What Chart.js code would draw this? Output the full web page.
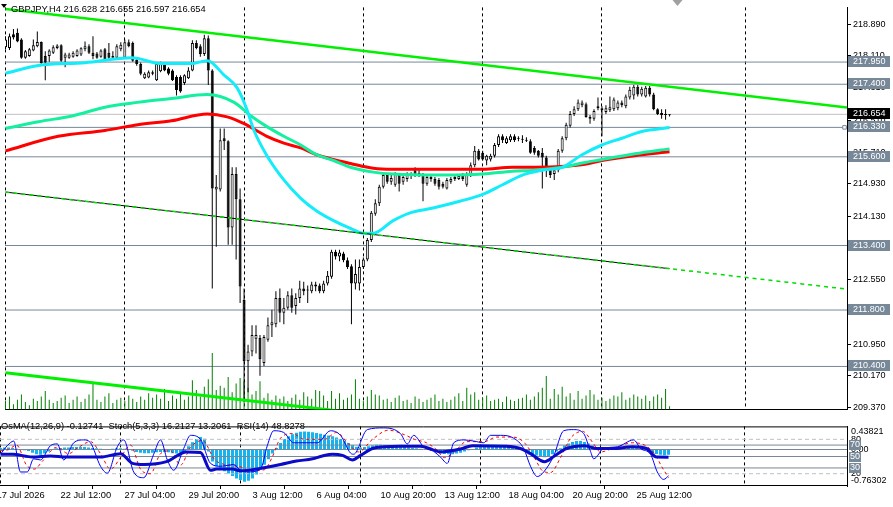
<!DOCTYPE html>
<html>
<head>
<meta charset="utf-8">
<script src="https://cdn.jsdelivr.net/npm/chart.js@4.4.0/dist/chart.umd.min.js"></script>
<style>
  html, body { margin: 0; padding: 0; background: #fff; }
  #wrap { position: relative; width: 893px; height: 507px; overflow: hidden; background: #fff; }
  canvas { position: absolute; left: 0; }
  #main { top: 0; }
  #ind { top: 417px; }
</style>
</head>
<body>
<div id="wrap">
  <canvas id="main" width="893" height="417"></canvas>
  <canvas id="ind" width="893" height="90"></canvas>
</div>
<script>
// GBPJPY H4, bar 0 = 17 Jul 2026 20:00
const symbol = 'GBPJPY,H4';
const timeLabels = ['17 Jul 2026', '22 Jul 12:00', '27 Jul 04:00', '29 Jul 20:00', '3 Aug 12:00', '6 Aug 04:00',
  '10 Aug 20:00', '13 Aug 12:00', '18 Aug 04:00', '20 Aug 20:00', '25 Aug 12:00'];
const timeLabelBars = [0, 16, 32, 48, 64, 80, 96, 112, 128, 144, 160];
const weekGridBars = [1, 31, 61, 91, 121, 151, 187];
const priceTicks = [218.890, 218.110, 217.310, 216.510, 215.710, 214.930, 214.130, 213.330, 212.550, 211.750, 210.950, 210.170, 209.370];
const levels = [217.950, 217.400, 216.330, 215.600, 213.400, 211.800, 210.400];
const lastPrice = 216.654;
const shiftBar = 170;

const opens = [218.34,218.32,218.30,218.64,218.68,218.51,218.06,218.10,218.24,218.34,
  218.45,218.10,218.10,218.18,218.30,218.37,218.06,218.06,218.08,218.10,
  218.14,218.27,218.34,218.18,218.16,218.08,218.27,218.18,218.06,218.06,
  218.27,218.06,218.44,218.42,218.00,217.90,217.55,217.57,217.70,217.50,
  217.72,217.90,217.79,217.74,217.58,217.58,217.43,217.55,217.74,218.42,
  218.34,218.15,218.54,217.74,214.787,214.787,216.061,215.989,213.849,215.171,
  214.546,212.047,210.532,210.772,211.085,211.109,210.484,211.061,211.422,211.446,
  212.095,211.734,211.854,212.167,211.902,212.095,212.335,212.287,212.263,212.431,
  212.407,212.263,212.455,212.623,213.248,213.128,213.200,213.032,212.888,212.455,
  212.455,212.864,213.056,213.537,214.186,214.450,214.859,215.147,214.979,214.907,
  215.147,214.979,215.051,215.135,215.268,215.196,215.147,214.931,215.051,215.051,
  215.027,214.931,214.811,214.979,215.051,215.051,215.147,214.907,215.147,215.388,
  215.748,215.700,215.508,215.532,215.628,215.892,216.109,215.940,216.013,216.109,
  216.049,216.037,216.013,215.989,215.820,215.748,215.700,215.580,215.316,215.171,
  215.268,215.748,216.061,216.373,216.662,216.782,216.878,216.902,216.590,216.542,
  216.854,216.806,216.710,216.758,216.782,216.806,216.950,216.854,217.071,217.119,
  217.335,217.143,217.095,217.311,217.143,216.782,216.686,216.638,216.628];
const highs = [218.59,218.59,218.66,218.77,218.78,218.54,218.25,218.30,218.51,218.71,
  218.46,218.22,218.27,218.37,218.39,218.39,218.18,218.18,218.22,218.27,
  218.32,218.46,218.39,218.59,218.20,218.27,218.30,218.42,218.22,218.39,
  218.44,218.51,218.51,218.46,218.03,217.94,217.70,217.74,217.74,217.94,
  217.96,217.94,217.82,217.77,217.62,217.62,217.65,217.82,218.49,218.49,
  218.39,218.63,218.61,217.77,215.147,216.301,216.301,216.013,215.340,215.340,
  214.811,212.335,210.941,211.422,211.422,211.181,211.181,211.614,211.806,212.263,
  212.335,212.095,212.263,212.335,212.215,212.527,212.503,212.407,212.503,212.503,
  212.455,212.527,212.768,213.297,213.297,213.297,213.248,213.104,212.936,213.056,
  213.056,213.104,213.585,214.258,214.546,214.907,215.220,215.196,215.147,215.220,
  215.196,215.171,215.220,215.220,215.340,215.268,215.196,215.147,215.171,215.099,
  215.075,214.979,215.075,215.099,215.171,215.171,215.196,215.220,215.460,215.868,
  215.796,215.748,215.652,215.676,215.940,216.157,216.157,216.109,216.157,216.157,
  216.109,216.133,216.085,216.037,215.868,215.772,215.820,215.628,215.364,215.340,
  215.796,216.109,216.445,216.734,216.854,217.022,216.998,216.950,216.638,216.782,
  217.071,216.854,216.878,217.095,217.071,216.998,216.998,217.143,217.335,217.383,
  217.383,217.335,217.359,217.359,217.191,216.806,216.782,216.782,216.655];
const lows = [218.25,218.27,218.25,218.51,218.44,218.03,218.03,218.08,218.22,218.32,
  217.91,217.50,217.96,218.15,218.27,217.96,217.82,218.03,218.06,218.08,
  218.10,218.22,218.15,218.02,218.03,218.06,218.01,218.03,218.03,218.03,
  218.22,218.03,218.32,217.96,217.86,217.62,217.53,217.55,217.62,217.48,
  217.70,217.72,217.62,217.48,217.12,217.19,217.38,217.53,217.72,218.27,
  218.08,218.10,217.38,212.335,213.369,214.739,215.772,213.417,213.417,213.056,
  211.974,209.522,209.762,210.652,210.724,210.171,210.411,211.013,211.133,211.373,
  211.494,211.446,211.806,211.734,211.686,211.974,212.167,211.974,212.215,212.263,
  212.215,212.215,212.407,212.575,213.056,213.008,212.984,212.816,211.446,212.311,
  212.287,212.816,213.008,213.489,214.138,214.378,214.811,214.931,214.907,214.859,
  214.739,214.907,214.979,215.051,215.099,215.099,214.498,214.883,214.979,214.883,
  214.787,214.811,214.787,214.931,215.003,215.027,215.003,214.859,215.099,215.340,
  215.508,215.508,215.388,215.484,215.580,215.844,215.940,215.916,215.965,215.965,
  215.989,215.940,215.965,215.676,215.652,215.580,214.811,215.099,215.075,215.027,
  215.220,215.700,216.013,216.325,216.614,216.734,216.830,216.566,216.421,216.494,
  216.758,216.109,216.662,216.710,216.734,216.758,216.830,216.806,217.022,217.022,
  217.095,217.095,217.071,217.095,216.758,216.638,216.542,216.518,216.597];
const closes = [218.51,218.51,218.59,218.56,218.46,218.06,218.22,218.27,218.37,218.45,
  217.92,217.94,218.24,218.32,218.36,217.98,218.14,218.14,218.18,218.24,
  218.29,218.34,218.18,218.10,218.06,218.24,218.02,218.06,218.10,218.34,
  218.38,218.44,218.34,217.98,217.90,217.66,217.66,217.70,217.66,217.90,
  217.92,217.74,217.66,217.50,217.26,217.22,217.62,217.74,218.42,218.30,
  218.15,218.54,217.74,214.811,214.859,216.013,215.989,213.849,215.171,214.546,
  212.383,210.532,210.772,211.181,211.181,210.580,211.133,211.422,211.494,212.095,
  211.734,211.854,212.167,211.854,212.095,212.335,212.263,212.311,212.431,212.383,
  212.263,212.455,212.647,213.248,213.128,213.224,213.032,212.864,212.455,212.695,
  212.864,213.056,213.537,214.210,214.450,214.859,215.147,214.979,215.075,215.171,
  214.931,215.099,215.171,215.147,215.147,215.171,214.931,215.099,215.099,214.931,
  214.859,214.859,215.027,215.051,215.099,215.123,215.051,215.171,215.388,215.748,
  215.532,215.532,215.628,215.628,215.892,216.109,216.013,216.061,216.109,216.013,
  216.061,216.025,216.001,215.700,215.700,215.628,215.580,215.340,215.147,215.268,
  215.748,216.061,216.397,216.662,216.782,216.950,216.950,216.590,216.542,216.734,
  216.806,216.758,216.806,216.830,217.022,216.950,216.878,217.095,217.263,217.335,
  217.143,217.287,217.311,217.143,216.782,216.662,216.638,216.650,216.654];
const volumes = [600,800,1200,500,900,1400,700,400,1000,800,1200,
  1700,900,600,800,1100,1300,600,900,1200,700,
  1000,1400,2400,900,700,1200,1500,600,900,1100,
  800,1300,1000,700,1200,900,1500,1100,1400,1000,
  1900,800,1300,1000,1500,900,1200,2700,1800,1200,
  2100,2800,5200,1800,2200,2000,3000,1600,2400,2900,
  2600,2000,1400,1700,2600,1100,1500,900,1300,1000,
  1200,800,1100,1400,900,1600,1200,1000,1800,1700,
  1300,800,1700,1000,1500,900,1100,1400,2800,1000,
  800,1200,1800,1400,1300,900,1000,700,1100,1300,
  800,900,600,1200,1000,700,900,1100,1400,800,
  1000,700,900,1200,1500,800,2000,1400,1600,900,
  1100,1300,800,900,1000,700,1200,900,800,1000,
  1100,1400,900,1200,1600,2000,3100,1000,1900,1400,
  2100,1200,1500,900,1700,1000,1300,1800,1400,900,
  1100,800,1000,1300,1200,1600,900,1100,1400,1200,
  1000,1300,800,1200,1400,1100,1900,300];

// moving averages read as [bar, price]
const maFast = [[1,217.671],[9.25,217.864],[21,217.936],[32.75,218.056],[40.25,217.912],[47.75,217.912],[51.75,217.984],
  [56,217.623],[59.25,217.311],[61.5,216.830],[63.5,216.253],[66.75,215.628],[71,215.027],[75.25,214.570],[79.25,214.258],
  [83.5,214.018],[87.75,213.825],[91,213.705],[93.5,213.705],[98.5,214.018],[102.75,214.210],[108.5,214.330],[115.25,214.498],
  [121,214.667],[126,214.907],[131,215.147],[136,215.268],[141,215.340],[146,215.652],[151,215.893],[156,216.061],[161,216.229],[168,216.325]];
const maMid = [[1,216.301],[9.25,216.469],[17.75,216.614],[26,216.830],[34.25,216.950],[42.75,217.046],[51.75,217.143],
  [58.5,216.950],[62.75,216.614],[66.75,216.349],[71,216.109],[75.25,215.893],[79.25,215.652],[83.5,215.508],[87.75,215.340],
  [93.5,215.220],[98.5,215.171],[111,215.147],[121,215.171],[128.5,215.244],[134.25,215.268],[141,215.340],[146.75,215.460],
  [151,215.532],[159.25,215.676],[168,215.797]];
const maSlow = [[1,215.748],[14.25,216.109],[26,216.253],[34.25,216.397],[42.75,216.494],[51.75,216.662],[56.75,216.590],
  [61,216.421],[66.75,216.109],[71,215.940],[75.25,215.820],[79.25,215.652],[83.5,215.532],[87.75,215.436],[93.5,215.316],
  [98.5,215.292],[111,215.292],[121,215.292],[128.5,215.340],[134.25,215.340],[141.75,215.364],[146.75,215.412],[151,215.508],
  [159.25,215.628],[168,215.724]];

// trend lines [bar, price]
const upperTrend = [[1,219.264],[212.625,216.823]];
const midTrend = [[1,214.725],[212.625,212.318]];
const midTrendHistory = [[1,214.725],[168,212.825]];
const lowerTrend = [[1,210.242],[212.625,207.852]];

// sub window
const osma = [0.03,0.04,0.05,0.05,0.04,0.02,0.00,-0.02,-0.04,
  -0.08,-0.12,-0.13,-0.10,
  -0.05,0.00,0.03,0.04,0.05,0.05,0.06,0.06,0.07,0.06,0.05,0.04,0.03,0.02,
  0.01,0.01,0.02,0.03,0.03,0.02,0.00,-0.03,-0.06,-0.08,-0.09,-0.09,-0.08,-0.07,-0.06,-0.06,-0.07,-0.09,-0.10,-0.08,-0.04,
  0.08,0.18,0.26,0.31,0.27,
  -0.05,-0.30,-0.42,-0.48,-0.54,-0.60,-0.66,-0.72,-0.76,-0.80,-0.78,-0.72,-0.62,-0.50,-0.38,-0.24,
  -0.10,0.04,0.16,0.26,0.33,0.38,0.42,0.44,0.45,0.44,0.43,0.41,0.39,0.37,0.35,0.33,0.30,0.26,0.21,0.16,0.11,0.07,0.05,
  0.06,0.08,0.10,0.12,0.12,0.11,0.10,0.09,0.08,0.07,0.06,0.05,0.04,0.03,0.02,0.01,0.00,-0.02,-0.04,
  -0.08,-0.11,-0.12,-0.12,-0.10,-0.08,-0.05,-0.02,0.01,
  0.05,0.08,0.10,0.10,0.10,0.09,0.09,0.08,0.07,0.05,0.03,0.00,
  -0.04,-0.08,-0.12,-0.15,-0.18,-0.19,-0.17,-0.12,
  -0.05,0.03,0.10,0.15,0.19,0.21,0.21,0.19,0.15,0.10,0.06,
  0.04,0.03,0.03,0.04,0.04,0.03,0.03,0.04,0.04,0.03,
  0.01,-0.02,-0.05,-0.08,-0.11,-0.13,-0.14,-0.12741];
const stochMain = [[1,54],[2.7,69],[4.3,77],[6,23],[7.7,23],[9.3,46],[11,44],[13.5,69],[15.2,72],[16.8,44],[19.3,74],
  [21.8,79],[23.5,74],[26,33],[27.7,21],[30.2,67],[31.8,79],[34.3,23],[36.8,13],[39.3,54],[41,79],[42.7,44],[44.3,26],
  [46.8,64],[48.5,87],[51,80],[53.5,38],[56,33],[59.3,36],[61,26],[62.7,23],[66,28],[67.7,69],[69.3,95],[71.8,92],
  [74.3,74],[80.2,74],[83.5,95],[86,87],[88.5,56],[89.3,54],[92.7,97],[96.8,100],[101,90],[102.7,72],[104.3,87],
  [106.8,67],[109.3,59],[111,49],[112.7,38],[114.3,74],[116.8,79],[119.3,77],[121.8,74],[123.5,87],[126,87],[129.3,82],
  [131.8,64],[133.5,33],[135.2,15],[136.8,23],[139.3,51],[141.8,95],[144.3,97],[146.8,90],[148.5,59],[149.3,46],
  [151.8,64],[155.2,67],[159.3,79],[161,64],[163.5,54],[165.2,23],[166.8,10],[168,16.2127]];
const stochSignal = [[1,60],[3,62],[5,70],[7.5,35],[9.5,28],[11.5,42],[15,66],[18,55],[20.5,66],[23.5,76],[26,55],
  [28.5,28],[31,48],[33.5,70],[36,28],[38.5,20],[41,55],[43.5,60],[46,35],[48.5,66],[51.5,78],[54.5,45],[57,36],
  [61,32],[63.5,25],[67,27],[69,50],[71,82],[74,90],[77,80],[82,80],[85,92],[88,72],[90.5,58],[94,80],[98,96],
  [102,88],[104.5,80],[107.5,74],[110,62],[112,48],[114.5,58],[117.5,76],[122,76],[125,84],[129,84],[132,74],
  [134.5,48],[136.5,25],[138.5,22],[141,48],[143.5,82],[146.5,94],[149,75],[151,58],[154,64],[159,74],[162,70],
  [164.5,55],[166.5,30],[168,13.2061]];
const rsi = [[1,54],[4,54],[9,49],[13.5,51],[17.5,49],[26,49],[31,55],[34,38],[37,36],[42.5,41],[47.5,58],[51,57],
  [53.5,26],[55,28],[59,28],[61,25],[64,27],[66.5,30],[71,36],[75,42],[79,46],[81.5,51],[84,54],[86.5,52],[89,44],
  [91,52],[94,64],[97,67],[101,68],[106,68],[109,62],[111,58],[116,63],[119,69],[127.5,68],[131,64],[133.5,55],[137,41],
  [139.5,51],[142.5,64],[147,69],[150,64],[154,64],[159,67],[162.5,64],[165,49],[168,48.8278]];
const oscLevels = [80, 70, 50, 30, 20];

const X_MIN = 0.875, X_MAX = 212.625;
const FONT = '"Liberation Sans", Arial, sans-serif';
const SLATE = '#778899';

Chart.defaults.font.family = FONT;
Chart.defaults.font.size = 9;
Chart.defaults.color = '#000';
Chart.defaults.animation = false;

const idx = opens.map((_, i) => i);
const pts = arr => arr.map(([x, y]) => ({ x, y }));
const across = v => [{ x: X_MIN, y: v }, { x: X_MAX, y: v }];
const last = opens.length - 1;

function lineSet(data, color, width, order, extra) {
  return Object.assign({ type: 'line', data, borderColor: color, borderWidth: width, pointRadius: 0,
    fill: false, order }, extra || {});
}

const mainDecor = {
  id: 'mainDecor',
  afterDraw(chart) {
    const { ctx } = chart;
    const y = chart.scales.y;
    const x = chart.scales.x;
    ctx.save();
    ctx.fillStyle = '#000';
    ctx.beginPath(); ctx.moveTo(1, 4); ctx.lineTo(7, 4); ctx.lineTo(4, 8); ctx.closePath(); ctx.fill();
    ctx.font = '9.3px ' + FONT;
    ctx.textBaseline = 'alphabetic';
    ctx.fillText(symbol + ' ' + [opens[last], highs[last], lows[last], closes[last]].map(v => v.toFixed(3)).join(' '), 11, 11.7);

    ctx.font = '9px ' + FONT;
    ctx.textBaseline = 'middle';
    levels.forEach(v => {
      const py = Math.round(y.getPixelForValue(v));
      ctx.fillStyle = SLATE;
      ctx.fillRect(848, py - 6, 42, 11);
      ctx.fillStyle = '#fff';
      ctx.fillText(v.toFixed(3), 853, py - 0.5);
    });
    const lp = Math.round(y.getPixelForValue(lastPrice));
    ctx.fillStyle = '#000';
    ctx.fillRect(848, lp - 6, 42, 11);
    ctx.fillStyle = '#fff';
    ctx.fillText(lastPrice.toFixed(3), 853, lp - 0.5);

    const sx = x.getPixelForValue(shiftBar);
    ctx.fillStyle = '#a0a0a0';
    ctx.beginPath(); ctx.moveTo(sx - 5, 0); ctx.lineTo(sx + 5, 0); ctx.lineTo(sx, 6); ctx.closePath(); ctx.fill();
    ctx.restore();
  }
};

new Chart(document.getElementById('main'), {
  type: 'bar',
  data: {
    datasets: [
      lineSet(pts(upperTrend), '#00f000', 2.5, 0),
      lineSet(pts(midTrend), '#00dd00', 1.5, 0, { borderDash: [4, 4] }),
      lineSet(pts(midTrendHistory), '#000', 1, 1),
      lineSet(pts(lowerTrend), '#00f000', 3, 1),
      lineSet(pts(maFast), '#14ecfa', 3, 2, { cubicInterpolationMode: 'monotone' }),
      lineSet(pts(maMid), '#14f0a0', 3, 2, { cubicInterpolationMode: 'monotone' }),
      lineSet(pts(maSlow), '#ff0000', 3, 2, { cubicInterpolationMode: 'monotone' }),
      {
        type: 'bar', data: idx.map(i => ({ x: i, y: [opens[i], closes[i]] })), grouped: false,
        maxBarThickness: 3, barPercentage: 1, categoryPercentage: 1, minBarLength: 1, inflateAmount: 0,
        backgroundColor: c => closes[c.dataIndex] >= opens[c.dataIndex] ? '#ffffff' : '#000000',
        borderColor: '#000', borderWidth: 1, borderSkipped: false, order: 3
      },
      {
        type: 'bar', data: idx.map(i => ({ x: i, y: [lows[i], highs[i]] })), grouped: false,
        maxBarThickness: 1, barPercentage: 1, categoryPercentage: 1, inflateAmount: 0,
        backgroundColor: '#000', borderWidth: 0, order: 4
      },
      {
        type: 'bar', data: idx.map(i => ({ x: i, y: volumes[i] })), yAxisID: 'yv', grouped: false,
        maxBarThickness: 1, barPercentage: 1, categoryPercentage: 1, inflateAmount: 0,
        backgroundColor: '#008000', borderWidth: 0, order: 6
      },
      ...levels.map(v => lineSet(across(v), SLATE, 1, 7)),
      lineSet(across(lastPrice), '#c0c0c0', 1, 7),
      { type: 'scatter', data: [{ x: 212, y: levels[2] }], pointStyle: 'rect', pointRadius: 2.5,
        backgroundColor: '#fff', borderColor: SLATE, borderWidth: 1, order: 0 }
    ]
  },
  options: {
    responsive: false, devicePixelRatio: 1, animation: false,
    layout: { padding: 0 },
    plugins: { legend: { display: false }, tooltip: { enabled: false } },
    scales: {
      x: {
        type: 'linear', min: X_MIN, max: X_MAX, offset: false,
        ticks: { display: false },
        grid: { color: '#000', lineWidth: 1, drawTicks: false, offset: false, borderDash: [3, 3] },
        border: { display: true, color: '#000', width: 1, dash: [3, 3] },
        afterBuildTicks: s => { s.ticks = weekGridBars.map(v => ({ value: v })); },
        afterFit: s => { s.height = 2; s.paddingLeft = 0; s.paddingRight = 0; }
      },
      y: {
        type: 'linear', position: 'right', min: 209.330, max: 219.306,
        grid: { drawOnChartArea: false, drawTicks: true, tickLength: 4, tickColor: '#000', color: '#000' },
        border: { display: true, color: '#000', width: 1 },
        ticks: { autoSkip: false, padding: 2, font: { size: 9 }, color: '#000', callback: v => v.toFixed(3) },
        afterBuildTicks: s => { s.ticks = priceTicks.map(v => ({ value: v })); },
        afterFit: s => { s.width = 46; }
      },
      yv: { type: 'linear', display: false, min: 0, max: 37000 }
    }
  },
  plugins: [mainDecor]
});

const indDecor = {
  id: 'indDecor',
  afterDraw(chart) {
    const { ctx, chartArea } = chart;
    const yR = chart.scales.yR;
    ctx.save();
    ctx.strokeStyle = '#000';
    ctx.lineWidth = 1;
    ctx.beginPath();
    ctx.moveTo(0, chartArea.top + 0.5); ctx.lineTo(chartArea.right, chartArea.top + 0.5);
    ctx.moveTo(0, chartArea.bottom - 0.5); ctx.lineTo(chartArea.right, chartArea.bottom - 0.5);
    ctx.stroke();

    ctx.fillStyle = '#000';
    ctx.font = '9.3px ' + FONT;
    ctx.textBaseline = 'alphabetic';
    const head = 'OsMA(12,26,9) ' + osma[osma.length - 1].toFixed(5) +
      '  Stoch(5,3,3) ' + stochMain[stochMain.length - 1][1].toFixed(4) + ' ' + stochSignal[stochSignal.length - 1][1].toFixed(4) +
      '  RSI(14) ' + rsi[rsi.length - 1][1].toFixed(4);
    ctx.fillText(head, 1, 12.3);

    ctx.font = '9px ' + FONT;
    ctx.textBaseline = 'middle';
    [80, 20].forEach(v => { ctx.fillStyle = '#000'; ctx.fillText(String(v), 851, yR.getPixelForValue(v)); });
    [70, 50, 30].forEach(v => {
      const py = Math.round(yR.getPixelForValue(v));
      ctx.fillStyle = SLATE;
      ctx.fillRect(849, py - 5, 12, 10);
      ctx.fillStyle = '#fff';
      ctx.fillText(String(v), 850, py);
    });
    ctx.restore();
  }
};

new Chart(document.getElementById('ind'), {
  type: 'bar',
  data: {
    datasets: [
      {
        type: 'bar', data: idx.map(i => ({ x: i, y: osma[i] })), yAxisID: 'yO', grouped: false,
        maxBarThickness: 3, barPercentage: 1, categoryPercentage: 1, inflateAmount: 0,
        backgroundColor: '#14b4f0', borderWidth: 0, order: 9
      },
      lineSet(across(0), SLATE, 1, 8, { yAxisID: 'yO' }),
      ...oscLevels.map(v => lineSet(across(v), (v === 80 || v === 20) ? '#c0c0c0' : SLATE, 1, 8,
        Object.assign({ yAxisID: 'yR' }, (v === 80 || v === 20) ? { borderDash: [4, 3] } : {}))),
      lineSet(pts(stochSignal), '#ff0000', 1, 3, { yAxisID: 'yR', borderDash: [3, 3], cubicInterpolationMode: 'monotone' }),
      lineSet(pts(stochMain), '#0000ff', 1, 2, { yAxisID: 'yR', cubicInterpolationMode: 'monotone' }),
      lineSet(pts(rsi), '#0a0ac8', 3, 1, { yAxisID: 'yR', cubicInterpolationMode: 'monotone' })
    ]
  },
  options: {
    responsive: false, devicePixelRatio: 1, animation: false,
    layout: { padding: { top: 1, left: 0, right: 0, bottom: 0 } },
    plugins: { legend: { display: false }, tooltip: { enabled: false } },
    scales: {
      x: {
        type: 'linear', min: X_MIN, max: X_MAX, offset: false,
        ticks: { display: false },
        grid: { color: '#000', lineWidth: 1, drawTicks: false, offset: false, borderDash: [3, 3] },
        border: { display: false, dash: [3, 3] },
        afterBuildTicks: s => { s.ticks = weekGridBars.map(v => ({ value: v })); },
        afterFit: s => { s.height = 0; s.paddingLeft = 0; s.paddingRight = 0; }
      },
      xl: {
        type: 'linear', position: 'bottom', min: X_MIN, max: X_MAX, offset: false,
        grid: { display: true, drawOnChartArea: false, drawTicks: true, tickLength: 3, tickColor: '#000', color: '#000' },
        border: { display: false },
        ticks: {
          autoSkip: false, maxRotation: 0, align: 'start', padding: 1, font: { size: 9.3 }, color: '#000',
          callback: v => timeLabels[timeLabelBars.indexOf(v)]
        },
        afterBuildTicks: s => { s.ticks = timeLabelBars.map(v => ({ value: v })); },
        afterFit: s => { s.height = 21; s.paddingLeft = 0; s.paddingRight = 0; }
      },
      yO: {
        type: 'linear', position: 'right', min: -0.909, max: 0.576,
        grid: { drawOnChartArea: false, drawTicks: false },
        border: { display: true, color: '#000', width: 1 },
        ticks: { autoSkip: false, padding: 4, font: { size: 9 }, color: '#000',
          callback: v => v === 0 ? '0.00' : v.toFixed(5) },
        afterBuildTicks: s => { s.ticks = [0.43821, 0, -0.76302].map(v => ({ value: v })); },
        afterFit: s => { s.width = 46; }
      },
      yR: { type: 'linear', display: false, min: -1.5, max: 102.6 }
    }
  },
  plugins: [indDecor]
});
</script>
</body>
</html>
